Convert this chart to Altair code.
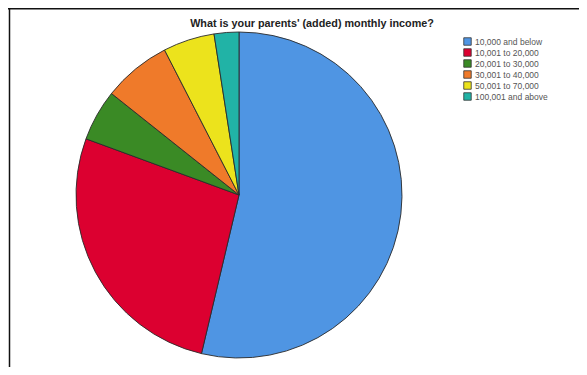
import altair as alt
import pandas as pd

categories = ["10,000 and below", "10,001 to 20,000", "20,001 to 30,000",
              "30,001 to 40,000", "50,001 to 70,000", "100,001 and above"]
percent = [53.7, 26.9, 5.1, 6.75, 5.1, 2.45]
colors = ["#4f95e3", "#dc0030", "#3a8a25", "#ef7a2a", "#ece31c", "#21b3a6"]
title_text = "What is your parents' (added) monthly income?"

df = pd.DataFrame({"category": categories, "percent": percent,
                   "idx": list(range(len(categories)))})

W, H = 571, 359

pie = alt.Chart(df).mark_arc(stroke="#2a2a2a", strokeWidth=0.9).encode(
    theta=alt.Theta("percent:Q", stack=True),
    order=alt.Order("idx:Q"),
    color=alt.Color(
        "category:N",
        sort=categories,
        scale=alt.Scale(domain=categories, range=colors),
        legend=alt.Legend(
            title=None, orient="none", legendX=455, legendY=29,
            symbolType="square", symbolSize=56, symbolStrokeColor="#333",
            symbolStrokeWidth=0.8, symbolOpacity=1,
            labelFont="Liberation Sans", labelFontSize=8.5,
            labelColor="#555", rowPadding=0, labelOffset=3,
        ),
    ),
    x=alt.value(231),
    y=alt.value(187),
    radius=alt.value(163),
)

title = alt.Chart(pd.DataFrame({"t": [title_text]})).mark_text(
    font="Liberation Sans", fontSize=10.8, fontWeight="bold", color="#222",
    baseline="middle", align="center",
).encode(text="t:N", x=alt.value(304), y=alt.value(16))

frame_top = alt.Chart(pd.DataFrame({"a": [0]})).mark_rule(
    color="#111", strokeWidth=1.5
).encode(x=alt.value(0), x2=alt.value(W), y=alt.value(0.75))

frame_left = alt.Chart(pd.DataFrame({"a": [0]})).mark_rule(
    color="#111", strokeWidth=1.5
).encode(x=alt.value(1.5), y=alt.value(0), y2=alt.value(H))

chart = alt.layer(frame_top, frame_left, pie, title).properties(
    width=W, height=H,
    autosize=alt.AutoSizeParams(type="none"),
    padding=0,
    background="white",
).configure_view(stroke=None)

chart.save("out.html", embed_options={"renderer": "svg", "actions": False})
